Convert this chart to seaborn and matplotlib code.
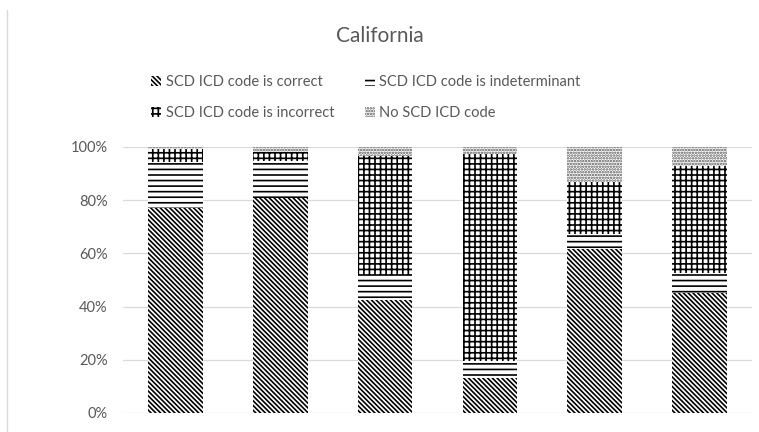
import numpy as np
import pandas as pd
import matplotlib.pyplot as plt
import matplotlib.patches as mpatches
from matplotlib.lines import Line2D
import seaborn as sns

# values (percent of each bar)
groups = ["1", "2", "3", "4", "5", "6"]
correct = [77, 81, 42.5, 13, 61.5, 45]
indeterminant = [17.4, 13.8, 9.4, 6.7, 5.7, 7.5]
incorrect = [4.9, 3.5, 44.8, 77.6, 19.8, 40.5]
no_code = [0.7, 1.7, 3.3, 2.7, 13, 7]

labels = ["SCD ICD code is correct", "SCD ICD code is indeterminant",
          "SCD ICD code is incorrect", "No SCD ICD code"]

sns.set_style("white")
plt.rcParams['font.family'] = ['Lato', 'DejaVu Sans']
plt.rcParams['hatch.linewidth'] = 1.2

grey = "#595959"

df = pd.DataFrame({"group": groups, "correct": correct, "indet": indeterminant,
                   "incorrect": incorrect, "none": no_code})
cols = ["correct", "indet", "incorrect", "none"]
cum = df[cols].cumsum(axis=1)

hatches = {"correct": "\\" * 7, "indet": "---", "incorrect": "+++", "none": "......"}
hcolors = {"correct": "black", "indet": "black", "incorrect": "black", "none": "#555555"}

fig = plt.figure(figsize=(7.59, 4.32), dpi=100)
ax = fig.add_axes([123 / 759, 19 / 432, 629 / 759, 266 / 432])

# draw from top segment down so each lower segment covers the one above
for c in reversed(cols):
    sns.barplot(x=df["group"], y=cum[c], color="white", saturation=1,
                edgecolor=hcolors[c], linewidth=0, hatch=hatches[c],
                width=0.52, ax=ax)

ax.set_ylim(0, 100)
ax.set_yticks(range(0, 101, 20))
ax.set_yticklabels([f"{v}%" for v in range(0, 101, 20)], color=grey, fontsize=10.5)
ax.set_xticklabels([])
ax.set_xlabel("")
ax.set_ylabel("")
ax.tick_params(length=0, pad=11)
ax.yaxis.grid(True, color="#d9d9d9", linewidth=0.9)
ax.set_axisbelow(True)
for s in ax.spines.values():
    s.set_visible(False)

fig.text(0.5, 1 - 36 / 432, "California", ha="center", va="center",
         fontsize=15, color=grey)

# legend fills by column, so order handles to read row by row
order = [0, 2, 1, 3]
handles = [mpatches.Patch(facecolor="white", edgecolor=hcolors[c], linewidth=0,
                          hatch=hatches[c]) for c in cols]
leg = fig.legend([handles[i] for i in order], [labels[i] for i in order],
                 ncol=2, loc="upper left",
                 bbox_to_anchor=(138 / 759, 1 - 62 / 432), frameon=False,
                 fontsize=10.5, labelcolor=grey, handlelength=0.7, handleheight=0.7,
                 handletextpad=0.3, columnspacing=2.1, labelspacing=1.15)

fig.add_artist(Line2D([7 / 759, 7 / 759], [0, 1 - 10 / 432], color="#d9d9d9",
                      linewidth=1, transform=fig.transFigure))

fig.savefig("out.png", dpi=100)
